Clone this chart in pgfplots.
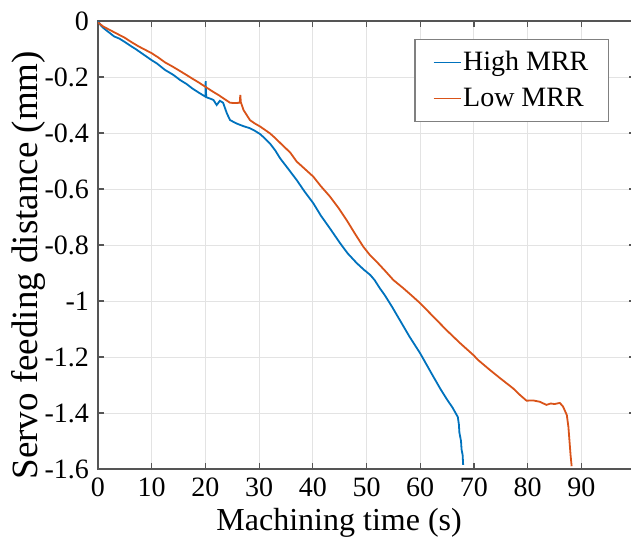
\documentclass[border=0pt]{standalone}
\usepackage{fontspec}
\setmainfont{Liberation Serif}
\usepackage{pgfplots}
\pgfplotsset{compat=1.18}
\definecolor{mblue}{HTML}{0072BD}
\definecolor{morange}{HTML}{D95319}
\definecolor{axgray}{HTML}{555555}
\definecolor{gridgray}{HTML}{E3E3E3}

\begin{document}
\begin{tikzpicture}
% page = 631x543 px at 0.5pt/px; axis box starts at (0,0)
\useasboundingbox (-49pt,-37pt) rectangle (266.5pt,234.5pt);
\begin{axis}[
    at={(0,0)}, anchor=south west,
    scale only axis, width=268.5pt, height=224pt,
    xmin=0, xmax=100, ymin=-1.6, ymax=0,
    xtick={0,10,...,90}, ytick={-1.6,-1.4,...,0},
    xticklabels={\textrm{0},\textrm{10},\textrm{20},\textrm{30},\textrm{40},
        \textrm{50},\textrm{60},\textrm{70},\textrm{80},\textrm{90}},
    yticklabels={\textrm{-1.6},\textrm{-1.4},\textrm{-1.2},\textrm{-1},
        \textrm{-0.8},\textrm{-0.6},\textrm{-0.4},\textrm{-0.2},\textrm{0}},
    tick label style={font=\fontsize{14}{16}\selectfont},
    xlabel={Machining time (s)},
    ylabel={Servo feeding distance (mm)},
    xlabel style={font=\fontsize{16}{18}\selectfont,
        at={(ticklabel cs:0.449)}, anchor=near ticklabel, yshift=1pt},
    ylabel style={font=\fontsize{18.5}{20}\selectfont,
        at={(ticklabel cs:0.455)}, anchor=near ticklabel, yshift=-7.5pt},
    grid=major, grid style={gridgray, line width=0.5pt},
    axis line style={axgray, line width=0.6pt},
    tick style={axgray, line width=0.6pt},
    major tick length=3pt,
    tick align=inside,
    xticklabel shift=1pt, yticklabel shift=1pt,
    legend style={at={(0.9516,0.96)}, anchor=north east, draw=gray,
        fill=white, line width=0.6pt, font=\fontsize{14}{16}\selectfont,
        inner xsep=9pt, inner ysep=4pt, row sep=3pt,
        nodes={inner xsep=1pt}},
    legend cell align=left,
    legend image code/.code={\draw[#1, line width=0.6pt] (0pt,0pt) -- (13.5pt,0pt);},
]
\addplot[mblue, line width=0.9pt] coordinates {
(0,0) (0.5,-0.015) (1,-0.025) (2,-0.04) (3,-0.055) (4,-0.063) (5,-0.075)
(6,-0.088) (7,-0.1) (8.5,-0.12) (10,-0.14) (11,-0.152) (12.5,-0.175)
(14,-0.192) (15.3,-0.211) (16.5,-0.225) (17.5,-0.24) (18.7,-0.255)
(19.8,-0.268) (20,-0.27) (20.05,-0.215) (20.15,-0.272) (21,-0.278)
(21.5,-0.282) (22.1,-0.30) (22.7,-0.285) (23.3,-0.292) (24.0,-0.33)
(24.6,-0.354) (25.8,-0.366) (27,-0.375) (28.3,-0.383) (29.2,-0.392)
(30.2,-0.404) (31,-0.418) (32.0,-0.437) (33,-0.462) (33.9,-0.49)
(35.5,-0.53) (37.0,-0.568) (38.5,-0.61) (40.1,-0.651) (41.5,-0.695)
(43.2,-0.741) (45.1,-0.794) (46.5,-0.83) (48.2,-0.865) (49.5,-0.888)
(50.7,-0.907) (51.5,-0.925) (52.5,-0.955) (53.4,-0.979) (54.8,-1.022)
(56.2,-1.068) (58,-1.127) (60.0,-1.187) (62,-1.255) (63.7,-1.312)
(65,-1.352) (66.0,-1.38) (67.0,-1.414) (67.2,-1.44) (67.3,-1.47)
(67.6,-1.50) (67.7,-1.53) (67.9,-1.55) (68.0,-1.585)
};
\addlegendentry{High MRR}
\addplot[morange, line width=0.9pt] coordinates {
(0,-0.005) (1,-0.02) (2,-0.03) (3,-0.04) (4,-0.05) (5,-0.06) (6.2,-0.075)
(7.5,-0.09) (8.7,-0.102) (10,-0.115) (11.2,-0.13) (12.5,-0.148)
(14,-0.164) (15.3,-0.179) (16.5,-0.193) (17.5,-0.205) (18.8,-0.22)
(20,-0.235) (21.2,-0.25) (22.5,-0.265) (23.5,-0.278) (24.6,-0.292)
(25.5,-0.293) (26.4,-0.292) (26.5,-0.264) (26.6,-0.29) (27.1,-0.318)
(28.3,-0.354) (29.2,-0.366) (30.2,-0.377) (31.1,-0.389) (32.0,-0.401)
(33,-0.418) (33.9,-0.435) (35.8,-0.47) (37.0,-0.502) (38.5,-0.528)
(40.1,-0.556) (41.5,-0.59) (43.2,-0.627) (44.8,-0.668) (46.3,-0.711)
(47.8,-0.758) (49.4,-0.806) (50.6,-0.835) (51.9,-0.86) (53.5,-0.893)
(55.0,-0.925) (56.9,-0.955) (58.5,-0.982) (60.0,-1.008) (62.5,-1.057)
(64.9,-1.104) (67.4,-1.15) (69.9,-1.193) (70.8,-1.211) (72.9,-1.245)
(74.9,-1.276) (77.3,-1.312) (78.6,-1.336) (79.8,-1.356) (81,-1.355)
(82.3,-1.36) (83.5,-1.371) (84.3,-1.366) (85.0,-1.368) (86.0,-1.364)
(86.6,-1.377) (87.3,-1.407) (87.6,-1.45) (87.8,-1.50) (88.0,-1.55)
(88.2,-1.59)
};
\addlegendentry{Low MRR}
\end{axis}
\end{tikzpicture}
\end{document}
